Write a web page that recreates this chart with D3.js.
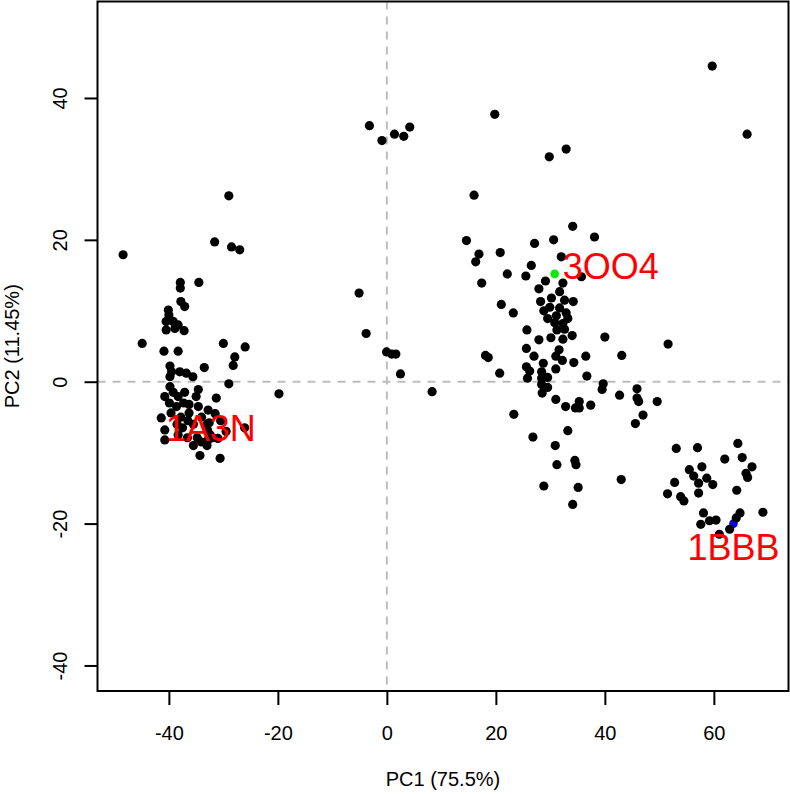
<!DOCTYPE html>
<html>
<head>
<meta charset="utf-8">
<script src="https://cdn.jsdelivr.net/npm/d3@7"></script>
<style>
  html, body { margin: 0; padding: 0; background: #fff; }
  svg { display: block; }
  text { font-family: "Liberation Sans", Arial, Helvetica, sans-serif; }
</style>
</head>
<body>
<svg id="chart" width="790" height="794"></svg>
<script>
// ---- data (PCA scores) ----
const leftPC1 = [-48.4,-29.0,-31.6,-28.5,-27.0,-37.9,-37.9,-34.5,-37.8,-37.1,-40.1,-40.0,-40.5,-39.2,-38.3,-40.5,-38.9,-37.2,
  -44.9,-40.9,-38.3,-30.0,-26.0,-27.9,-28.2,-33.5,-39.8,-39.5,-39.8,-38.0,-36.8,-35.6,-29.0,-19.8,
  -39.8,-39.2,-40.75,-38.3,-37.1,-34.6,-35.0,-39.9,-38.6,-37.3,-36.3,-34.6,-31.3,-41.4,-39.6,-37.8,-36.3,-32.8,
  -32.6,-32.9,-32.0,-32.8,-40.75,-40.75,-38.3,-36.6,-34.8,-26.1,-34.3,-30.6,-34.0,-32.4,
  -35.5,-36.5,-34.0,-33.0,-30.5,-31.5,-38.5,-37.5,-35.5,-33.0,-31.0,-29.5];
const leftPC2 = [17.9,26.2,19.7,19.0,18.6,14.0,13.2,14.0,11.3,10.6,10.1,9.4,8.5,8.5,8.0,7.3,7.5,7.2,
  5.4,4.3,4.3,5.4,4.9,3.5,2.3,2.0,2.2,1.4,0.7,1.4,1.2,0.7,-0.3,-1.7,
  -0.7,-1.5,-2.1,-2.1,-1.5,-1.1,-2.1,-3.0,-3.5,-3.0,-3.2,-3.5,-2.3,-5.1,-4.4,-5.0,-4.4,-4.0,
  -5.8,-6.8,-7.9,-8.2,-6.8,-8.2,-7.5,-7.9,-7.9,-6.5,-10.4,-10.8,-8.5,-7.5,
  -6.0,-5.5,-5.0,-6.0,-5.5,-4.5,-6.0,-6.5,-9.0,-9.0,-8.0,-7.0];

const midPC1 = [-3.2,-0.9,1.4,3.1,4.2,-5.1,-3.8,-0.05,0.9,1.65,2.5,8.3];
const midPC2 = [36.1,34.0,34.9,34.6,35.9,12.5,6.8,4.2,3.9,3.9,1.1,-1.4];

const centerPC1 = [19.8,29.8,32.9,16.0,34.1,14.6,38.1,27.1,30.6,16.9,16.3,20.8,32.0,26.5,22.1,25.5,17.4,35.7,29.1,32.3,
  31.7,27.9,21.0,23.2,28.2,30.2,32.6,34.2,28.8,29.9,31.7,29.5,31.1,32.9,33.2,30.8,32.3,31.2,32.6,25.7,
  40.0,27.9,30.1,32.3,34.0,25.6,31.6,18.1,18.6,27.0,31.0,32.2,34.3,36.5,43.1,28.7,25.6,31.0,20.7,26.2,
  25.8,28.4,28.4,29.5,36.7,28.4,29.5,28.5,39.7,39.5,42.7,45.9,45.9,46.2,47.0,45.6,31.0,32.8,34.6,35.3,
  35.3,37.4,23.3,33.2,26.8,30.9,34.5,34.7,31.2,43.0,28.8,35.1,34.1,51.6,49.6];
const centerPC2 = [37.7,31.7,32.8,26.3,21.9,19.9,20.4,19.5,20.0,18.0,16.9,18.2,17.6,16.4,15.2,14.9,13.9,14.8,14.2,13.9,
  12.7,13.1,10.9,9.7,11.3,11.8,11.5,11.3,10.0,10.5,10.4,8.9,9.3,9.7,8.9,8.3,8.2,7.3,7.4,7.3,
  6.3,5.9,6.2,6.0,6.5,4.7,4.5,3.7,3.4,3.6,3.6,3.0,2.7,3.6,3.7,2.6,2.1,1.8,1.2,1.5,
  0.5,1.4,0.5,0.6,0.8,-0.4,-0.8,-1.6,-0.3,-1.1,-1.9,-1.0,-2.3,-2.8,-4.7,-5.9,-2.5,-3.5,-3.7,-2.8,
  -3.7,-3.3,-4.6,-6.9,-7.8,-9.0,-11.1,-11.7,-11.7,-13.8,-14.7,-14.9,-17.3,5.3,-2.8];

const rightPC1 = [59.7,66.1,53.1,57.0,64.4,62.0,65.2,67.0,65.9,66.2,55.5,57.8,56.3,58.7,59.8,57.2,57.2,52.8,51.5,53.9,
  54.5,64.2,58.1,57.6,59.2,60.4,61.0,62.9,64.1,64.8,69.0];
const rightPC2 = [44.5,34.9,-9.4,-9.3,-8.7,-10.9,-10.7,-12.0,-12.9,-13.5,-12.4,-12.0,-13.3,-13.6,-14.5,-14.3,-15.7,-14.2,-15.8,-16.2,
  -16.8,-15.3,-18.5,-20.1,-19.6,-19.5,-21.5,-20.8,-19.2,-18.5,-18.4];

// highlighted structures
const hiNames = ["1A3N", "3OO4", "1BBB"];
const hiPC1 = [-32.3, 30.8, 63.6];
const hiPC2 = [-6.5, 15.2, -20.0];
const hiColors = [null, "#00ee00", "#0000ee"];
const hiPos = ["center", "right", "below"];

const xTicks = [-40, -20, 0, 20, 40, 60];
const yTicks = [-40, -20, 0, 20, 40];
const yLim = [-40, 50];
const xLabel = "PC1 (75.5%)";
const yLabel = "PC2 (11.45%)";

// ---- build ----
const allPC1 = [].concat(leftPC1, midPC1, centerPC1, rightPC1);
const allPC2 = [].concat(leftPC2, midPC2, centerPC2, rightPC2);
const points = allPC1.map((v, i) => ({x: v, y: allPC2[i]}));

const W = 790, H = 794;
const plot = {left: 97.5, right: 788.5, top: 1.5, bottom: 691};
const pad = r => { const d = (r[1] - r[0]) * 0.04; return [r[0] - d, r[1] + d]; };

const x = d3.scaleLinear().domain(pad(d3.extent(allPC1))).range([plot.left, plot.right]);
const y = d3.scaleLinear().domain(pad(yLim)).range([plot.bottom, plot.top]);
const fmt = d => String(d); // plain hyphen-minus like R

const svg = d3.select("#chart");
svg.append("rect").attr("width", W).attr("height", H).attr("fill", "#fff");

// reference lines at 0
svg.append("line")
  .attr("x1", x(0)).attr("x2", x(0)).attr("y1", plot.top).attr("y2", plot.bottom)
  .attr("stroke", "#bdbdbd").attr("stroke-width", 2).attr("stroke-dasharray", "8,7");
svg.append("line")
  .attr("x1", plot.left).attr("x2", plot.right).attr("y1", y(0)).attr("y2", y(0))
  .attr("stroke", "#bdbdbd").attr("stroke-width", 2).attr("stroke-dasharray", "8,7");

const hi = hiNames.map((n, i) => ({name: n, x: hiPC1[i], y: hiPC2[i], color: hiColors[i], pos: hiPos[i]}));

svg.append("g").selectAll("circle").data(hi.filter(d => d.color && d.name === "1BBB")).join("circle")
  .attr("cx", d => x(d.x)).attr("cy", d => y(d.y)).attr("r", 4.3).attr("fill", d => d.color);

svg.append("g").selectAll("circle").data(points).join("circle")
  .attr("cx", d => x(d.x)).attr("cy", d => y(d.y)).attr("r", 4.6).attr("fill", "#000");

svg.append("g").selectAll("circle").data(hi.filter(d => d.color && d.name !== "1BBB")).join("circle")
  .attr("cx", d => x(d.x)).attr("cy", d => y(d.y)).attr("r", 4.3).attr("fill", d => d.color);

// labels
svg.append("g").selectAll("text").data(hi).join("text")
  .attr("x", d => d.pos === "right" ? x(d.x) + 8 : x(d.x))
  .attr("y", d => d.pos === "right" ? y(d.y) + 5 : d.pos === "below" ? y(d.y) + 36 : y(d.y) + 13)
  .attr("text-anchor", d => d.pos === "right" ? "start" : "middle")
  .attr("font-size", 36).attr("fill", "#ff0000")
  .text(d => d.name);

// axes
const fs = 20;
const xAxis = svg.append("g").attr("transform", `translate(0,${plot.bottom})`)
  .call(d3.axisBottom(x).tickValues(xTicks).tickSize(14).tickPadding(0).tickFormat(fmt));
xAxis.select(".domain").remove();
xAxis.selectAll(".tick line").attr("stroke", "#000").attr("stroke-width", 2);
xAxis.selectAll(".tick text").attr("font-size", fs).attr("fill", "#000")
  .attr("font-family", "'Liberation Sans', Arial, sans-serif")
  .attr("y", 49).attr("dy", null);

const yAxis = svg.append("g").attr("transform", `translate(${plot.left},0)`)
  .call(d3.axisLeft(y).tickValues(yTicks).tickSize(13).tickFormat(fmt));
yAxis.select(".domain").remove();
yAxis.selectAll(".tick line").attr("stroke", "#000").attr("stroke-width", 2);
yAxis.selectAll(".tick text").attr("font-size", fs).attr("fill", "#000")
  .attr("font-family", "'Liberation Sans', Arial, sans-serif")
  .attr("x", null).attr("dy", null).attr("text-anchor", "middle")
  .attr("transform", "translate(-31,0) rotate(-90)");

// box
svg.append("rect")
  .attr("x", plot.left).attr("y", plot.top)
  .attr("width", plot.right - plot.left).attr("height", plot.bottom - plot.top)
  .attr("fill", "none").attr("stroke", "#000").attr("stroke-width", 2);

// axis titles
svg.append("text").attr("x", (plot.left + plot.right) / 2).attr("y", 786)
  .attr("text-anchor", "middle").attr("font-size", fs).text(xLabel);
svg.append("text")
  .attr("transform", `translate(19,${(plot.top + plot.bottom) / 2}) rotate(-90)`)
  .attr("text-anchor", "middle").attr("font-size", fs).text(yLabel);
</script>
</body>
</html>
